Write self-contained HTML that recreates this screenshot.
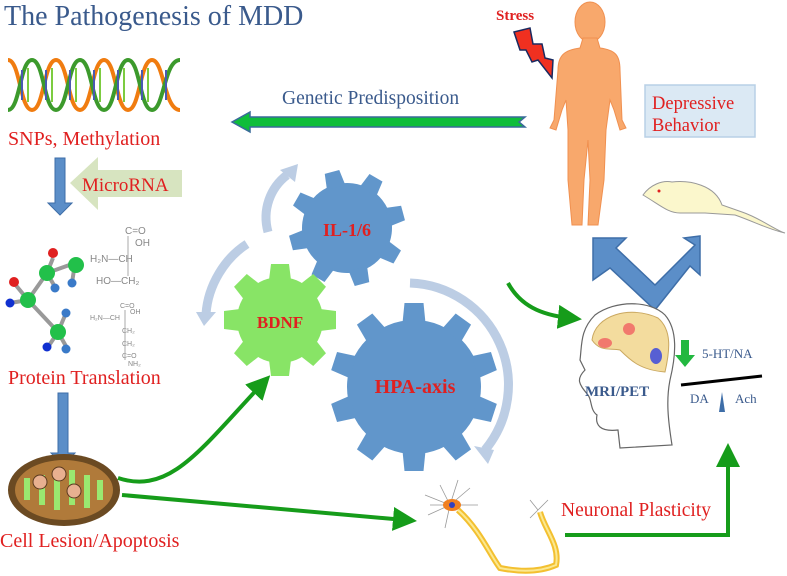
<!DOCTYPE html>
<html><head><meta charset="utf-8"><style>
html,body{margin:0;padding:0;background:#fff;}
svg{display:block;font-family:"Liberation Serif",serif;}
</style></head><body>
<svg id="s" width="787" height="576" viewBox="0 0 787 576" xmlns="http://www.w3.org/2000/svg">
<defs>
<marker id="ga" markerWidth="6" markerHeight="6" refX="3" refY="3" orient="auto" markerUnits="strokeWidth"><path d="M0,0 L6,3 L0,6 Z" fill="#169c1a"/></marker>
</defs>
<text x="4" y="25" font-size="28" fill="#3a5a8c">The Pathogenesis of MDD</text>

<!-- DNA -->
<g stroke-width="4" fill="none">
<path d="M8,60 C20,60 20,110 32,110 C44,110 44,60 56,60 C68,60 68,110 80,110 C92,110 92,60 104,60 C116,60 116,110 128,110 C140,110 140,60 152,60 C164,60 164,110 180,110" stroke="#f07c10"/>
<path d="M8,110 C20,110 20,60 32,60 C44,60 44,110 56,110 C68,110 68,60 80,60 C92,60 92,110 104,110 C116,110 116,60 128,60 C140,60 140,110 152,110 C164,110 164,60 180,60" stroke="#3c9a2c"/>
</g>
<g stroke="#4a5ab0" stroke-width="2"><path d="M22,70v30M46,70v30M70,70v30M94,70v30M118,70v30M142,70v30M166,70v30"/></g>
<g stroke="#7ccc40" stroke-width="2"><path d="M28,68v34M52,68v34M76,68v34M100,68v34M124,68v34M148,68v34"/></g>
<text x="8" y="145" font-size="20" fill="#e02020">SNPs, Methylation</text>

<!-- blue down arrows -->
<path d="M55,158 h10 v45 h7 l-12,12 l-12,-12 h7 z" fill="#5b8ec8" stroke="#3e6ea8"/>
<path d="M58,393 h10 v60 h7 l-12,12 l-12,-12 h7 z" fill="#5b8ec8" stroke="#3e6ea8"/>
<!-- MicroRNA -->
<path d="M70,183 L98,157 V170 H182 V197 H98 V210 Z" fill="#d7e4c0"/>
<text x="82" y="191" font-size="19" fill="#e02020">MicroRNA</text>

<!-- molecule -->
<g stroke="#999" stroke-width="4" fill="none"><path d="M28,300 L47,273 L75,263 M47,273 L53,258 M28,300 L14,283 M28,300 L58,332 L66,313 M58,332 L48,347 M58,332 L67,348 M28,300 L10,303 M47,273 L55,287 M75,263 L72,283"/></g>
<g fill="#22c04a"><circle cx="47" cy="273" r="8"/><circle cx="76" cy="265" r="8"/><circle cx="28" cy="300" r="8"/><circle cx="58" cy="332" r="8"/></g>
<g fill="#e02020"><circle cx="53" cy="253" r="5"/><circle cx="14" cy="282" r="5"/></g>
<g fill="#3a7ac8"><circle cx="55" cy="288" r="4.5"/><circle cx="72" cy="283" r="4.5"/><circle cx="66" cy="313" r="4.5"/><circle cx="66" cy="349" r="4.5"/></g>
<g fill="#1030d0"><circle cx="10" cy="303" r="4.5"/><circle cx="47" cy="347" r="4.5"/></g>
<g font-family="Liberation Sans,sans-serif" fill="#888" font-size="10">
<text x="125" y="234">C=O</text><text x="135" y="246">OH</text><text x="90" y="262">H₂N—CH</text><text x="96" y="284">HO—CH₂</text>
<text font-size="7" x="120" y="308">C=O</text><text font-size="7" x="130" y="314">OH</text><text font-size="7" x="90" y="320">H₂N—CH</text><text font-size="7" x="122" y="333">CH₂</text><text font-size="7" x="122" y="346">CH₂</text><text font-size="7" x="122" y="358">C=O</text><text font-size="7" x="128" y="366">NH₂</text>
</g>
<g stroke="#aaa" stroke-width="1"><path d="M128,236v30M128,266v10M125,310v50"/></g>
<text x="8" y="384" font-size="20" fill="#e02020">Protein Translation</text>

<!-- mitochondria -->
<ellipse cx="64" cy="490" rx="56" ry="36" fill="#6b4a22"/>
<ellipse cx="64" cy="490" rx="49" ry="30" fill="#b07a3a"/>
<path d="M27,500 V478 M42,505 V475 M57,510 V472 M72,505 V470 M87,508 V475 M100,500 V480" stroke="#9ae870" stroke-width="6"/>
<g fill="#e8b090" stroke="#5a3a20"><circle cx="40" cy="482" r="7"/><circle cx="59" cy="474" r="7"/><circle cx="74" cy="491" r="7"/></g>
<text x="0" y="547" font-size="20" fill="#e02020">Cell  Lesion/Apoptosis</text>

<!-- green arrows -->
<path d="M118,478 C170,495 200,450 262,384" stroke="#169c1a" stroke-width="4" fill="none" marker-end="url(#ga)"/>
<path d="M122,495 L405,520" stroke="#169c1a" stroke-width="4" fill="none" marker-end="url(#ga)"/>
<path d="M508,283 C520,305 540,315 570,318" stroke="#169c1a" stroke-width="4" fill="none" marker-end="url(#ga)"/>
<path d="M565,535 H728 V455" stroke="#169c1a" stroke-width="4" fill="none" marker-end="url(#ga)"/>
<!-- Genetic predisposition arrow -->
<path d="M232,122 L250,112 V117 H525 L519,122 L525,127 H250 V132 Z" fill="#0fbd3a" stroke="#3a6a9a" stroke-width="1.5"/>
<text x="282" y="104" font-size="19.5" fill="#3a5a8c">Genetic Predisposition</text>

<!-- light arcs -->
<g fill="none" stroke="#bccde4" stroke-width="9">
<path d="M268,232 C262,210 270,188 287,175"/>
<path d="M247,244 C225,258 208,285 206,314"/>
<path d="M410,283 A102,102 0 0 1 485,450"/>
</g>
<g fill="#bccde4"><path d="M280,170 L298,164 L295,182 Z"/><path d="M196,312 L216,312 L204,326 Z"/><path d="M474,446 L494,450 L488,464 Z"/></g>

<g id="gears"></g>

<text x="347" y="236" font-size="18" font-weight="bold" fill="#e02020" text-anchor="middle">IL-1/6</text>
<text x="280" y="328" font-size="17" font-weight="bold" fill="#e02020" text-anchor="middle">BDNF</text>
<text x="415" y="393" font-size="20" font-weight="bold" fill="#e02020" text-anchor="middle">HPA-axis</text>

<!-- human figure -->
<g fill="#f8a86c" stroke="#f09050" stroke-width="1">
<ellipse cx="590" cy="22" rx="15" ry="20"/>
<path d="M583,38 H597 L600,48 C615,50 620,55 620,70 L622,120 L626,128 L620,130 L614,110 L610,100 L606,130 L604,180 L598,225 L588,225 L590,180 L588,140 L584,180 L582,225 L572,225 L568,180 L568,130 L566,100 L562,110 L556,130 L550,128 L554,120 L558,70 C558,55 565,50 580,48 Z"/>
</g>
<!-- Stress -->
<text x="496" y="20" font-size="15" font-weight="bold" fill="#e02020">Stress</text>
<path d="M514,32 L530,28 L533,44 L542,44 L545,58 L553,60 L552,78 L538,60 L532,62 L526,50 L520,50 Z" fill="#f03020" stroke="#1a2a60" stroke-width="1.5"/>

<!-- Depressive behavior -->
<rect x="645" y="85" width="110" height="52" fill="#dbe9f4" stroke="#b8d0e6" stroke-width="1.5"/>
<text x="652" y="109" font-size="18.5" fill="#e02020">Depressive</text>
<text x="652" y="131" font-size="18.5" fill="#e02020">Behavior</text>

<!-- mouse -->
<path d="M643,195 C650,185 662,180 672,182 C690,180 715,185 722,205 L742,212 C760,218 775,230 785,233 C770,230 755,222 735,215 L705,213 L680,213 C668,213 660,205 643,195 Z" fill="#fbf7cc" stroke="#999" stroke-width="1"/>
<circle cx="659" cy="191" r="1.5" fill="#e02020"/>

<!-- blue chevron -->
<path d="M593,238 L626,238 L616,248 L655,285 L695,245 L684,238 L700,236 L700,275 L690,266 L655,310 L610,268 L593,280 Z" fill="#5b8ec8" stroke="#3e6ea8" stroke-width="1.5"/>

<!-- brain head -->
<path d="M588,395 C580,385 575,380 585,370 L580,360 C582,345 580,330 595,315 C615,300 650,300 665,315 C678,330 676,355 670,380 C666,400 668,420 672,445 L620,448 L618,430 C600,432 595,425 597,415 C590,410 592,400 588,395 Z" fill="#fff" stroke="#666" stroke-width="1.2"/>
<path d="M592,340 C595,315 630,305 658,318 C672,330 670,350 665,372 C640,370 630,360 620,350 C610,348 600,352 592,340 Z" fill="#f3dc9e" stroke="#caa860" stroke-width="1"/>
<ellipse cx="605" cy="343" rx="7" ry="5" fill="#f06060" opacity=".8"/>
<ellipse cx="629" cy="329" rx="6" ry="6" fill="#f06060" opacity=".8"/>
<ellipse cx="656" cy="356" rx="6" ry="8" fill="#3040e0" opacity=".8"/>
<text x="585" y="396" font-size="15" font-weight="bold" fill="#3a5a8c">MRI/PET</text>
<path d="M681,340 h8 v15 h6 l-10,12 l-10,-12 h6 z" fill="#22b840"/>
<text x="702" y="358" font-size="13" fill="#3a5a8c">5-HT/NA</text>
<path d="M681,385 L762,376" stroke="#000" stroke-width="3"/>
<text x="690" y="403" font-size="13" fill="#3a5a8c">DA</text>
<text x="735" y="403" font-size="13" fill="#3a5a8c">Ach</text>
<path d="M722,392 L725,412 L719,412 Z" fill="#3e6ea8"/>

<!-- neuron -->
<g stroke="#999" stroke-width="0.8"><path d="M450,505 L425,495 M450,505 L428,515 M450,505 L440,485 M450,505 L458,480 M450,505 L470,488 M450,505 L478,505 M450,505 L445,528 M450,505 L430,505 M538,510 L530,500 M538,510 L548,500 M538,510 L530,518"/></g>
<path d="M458,510 C480,530 490,555 500,568 C520,572 540,572 556,565 C560,545 545,530 540,512" fill="none" stroke="#f3c030" stroke-width="6"/>
<path d="M458,510 C480,530 490,555 500,568 C520,572 540,572 556,565 C560,545 545,530 540,512" fill="none" stroke="#fbe890" stroke-width="2"/>
<ellipse cx="452" cy="505" rx="9" ry="6" fill="#f08020"/>
<circle cx="452" cy="505" r="3" fill="#3040c0"/>
<text x="561" y="516" font-size="19.5" fill="#e02020">Neuronal Plasticity</text>
</svg>
<script>
function gear(cx,cy,r,R,n,w,rot,fill){
 var g='<g transform="translate('+cx+','+cy+') rotate('+rot+')"><circle r="'+r+'" fill="'+fill+'"/>';
 for(var i=0;i<n;i++){g+='<path d="M'+(-w/2-2)+','+(-r+3)+' L'+(-w/2)+','+(-R)+' L'+(w/2)+','+(-R)+' L'+(w/2+2)+','+(-r+3)+' Z" fill="'+fill+'" transform="rotate('+(360/n*i)+')"/>';}
 return g+'</g>';
}
document.getElementById('gears').innerHTML=
 gear(347,228,45,58,8,15,-15,'#6196cb')+
 gear(280,320,43,56,8,18,0,'#88e466')+
 gear(414,387,67,84,10,19,0,'#6196cb');
</script>
</body></html>
